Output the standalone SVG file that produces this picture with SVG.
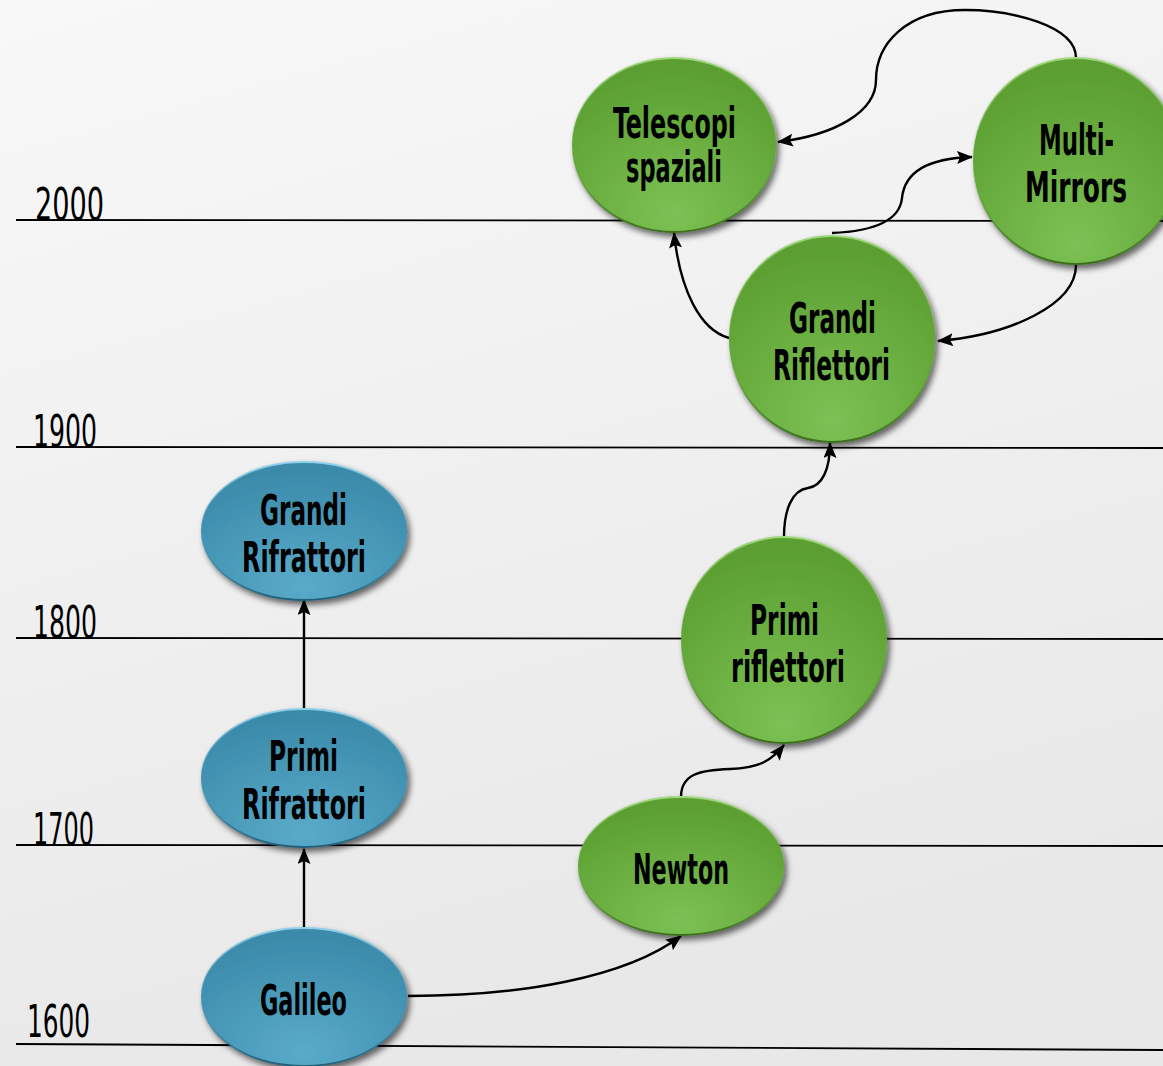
<svg xmlns="http://www.w3.org/2000/svg" width="1163" height="1066" viewBox="0 0 1163 1066">
<defs>
<linearGradient id="bg" x1="0" y1="0" x2="0.3" y2="1">
<stop offset="0" stop-color="#f8f8f8"/>
<stop offset="1" stop-color="#e8e8e8"/>
</linearGradient>
<radialGradient id="green" cx="0.5" cy="0.85" r="0.8" fx="0.5" fy="0.9">
<stop offset="0" stop-color="#7cc154"/>
<stop offset="1" stop-color="#5b9e30"/>
</radialGradient>
<radialGradient id="blue" cx="0.5" cy="0.85" r="0.8" fx="0.5" fy="0.9">
<stop offset="0" stop-color="#5aaac9"/>
<stop offset="1" stop-color="#3a8aaa"/>
</radialGradient>
<linearGradient id="rimG" x1="0" y1="0" x2="0" y2="1">
<stop offset="0" stop-color="#9fd77d"/>
<stop offset="0.5" stop-color="#5fa235" stop-opacity="0"/>
<stop offset="1" stop-color="#3c6e1c"/>
</linearGradient>
<linearGradient id="rimB" x1="0" y1="0" x2="0" y2="1">
<stop offset="0" stop-color="#8fd0ea"/>
<stop offset="0.5" stop-color="#3a8aaa" stop-opacity="0"/>
<stop offset="1" stop-color="#21607a"/>
</linearGradient>
<filter id="shadow" x="-20%" y="-20%" width="145%" height="145%">
<feGaussianBlur in="SourceAlpha" stdDeviation="3"/>
<feOffset dx="3" dy="4" result="b"/>
<feComponentTransfer><feFuncA type="linear" slope="0.6"/></feComponentTransfer>
<feMerge><feMergeNode/><feMergeNode in="SourceGraphic"/></feMerge>
</filter>
<marker id="arr" viewBox="0 0 16 13" refX="15" refY="6.5" markerWidth="16" markerHeight="13" markerUnits="userSpaceOnUse" orient="auto">
<path d="M0,0 L16,6.5 L0,13 L3,6.5 Z" fill="#000"/>
</marker>
</defs>
<style>
.yl{stroke:#000;stroke-width:1.8;fill:none}
.yr{font-family:"Liberation Sans Narrow","DejaVu Sans Condensed","Liberation Sans",sans-serif;font-size:44px;fill:#000}
.g{fill:url(#green);stroke:url(#rimG);stroke-width:2;filter:url(#shadow)}
.b{fill:url(#blue);stroke:url(#rimB);stroke-width:2;filter:url(#shadow)}
.t{font-family:"Liberation Sans Narrow","DejaVu Sans Condensed","Liberation Sans",sans-serif;font-weight:bold;font-size:42px;fill:#000}
.c{stroke:#000;stroke-width:2.4;fill:none;marker-end:url(#arr)}
</style>
<rect width="1163" height="1066" fill="url(#bg)"/>
<g id="timeline">
<line class="yl" x1="16" y1="220" x2="1163" y2="221"/>
<line class="yl" x1="16" y1="447" x2="1163" y2="448"/>
<line class="yl" x1="16" y1="638" x2="1163" y2="639"/>
<line class="yl" x1="16" y1="845" x2="1163" y2="846"/>
<line class="yl" x1="16" y1="1044" x2="1163" y2="1050"/>
<text class="yr" x="35" y="220" textLength="69" lengthAdjust="spacingAndGlyphs">2000</text>
<text class="yr" x="33" y="447" textLength="64" lengthAdjust="spacingAndGlyphs">1900</text>
<text class="yr" x="33" y="638" textLength="64" lengthAdjust="spacingAndGlyphs">1800</text>
<text class="yr" x="33" y="845" textLength="61" lengthAdjust="spacingAndGlyphs">1700</text>
<text class="yr" x="27" y="1037" textLength="63" lengthAdjust="spacingAndGlyphs">1600</text>
</g>
<g id="connectors">
<path class="c" d="M304,928 L304,849"/>
<path class="c" d="M304,709 L304,600"/>
<path class="c" d="M408,996 C520,996 625,978 681,936"/>
<path class="c" d="M681,797 C681,774 700,770 730,769 C760,768 772,760 784,745"/>
<path class="c" d="M784,537 C784,510 792,490 808,488 C822,486 830,470 830,443"/>
<path class="c" d="M729,338 C700,330 680,290 674,233"/>
<path class="c" d="M832,233 C880,231 900,218 902,198 C905,168 935,158 972,157"/>
<path class="c" d="M1076,58 C1076,25 1010,10 965,10 C905,10 876,45 876,80 C876,112 835,135 778,142"/>
<path class="c" d="M1076,265 C1076,305 1010,335 938,341"/>
</g>
<g id="telescopi">
<ellipse class="g" cx="674" cy="145" rx="102" ry="87"/>
<text class="t" x="613" y="138" textLength="123" lengthAdjust="spacingAndGlyphs">Telescopi</text>
<text class="t" x="626" y="182" textLength="96" lengthAdjust="spacingAndGlyphs">spaziali</text>
</g>
<g id="multimirrors">
<ellipse class="g" cx="1076" cy="161" rx="103" ry="103"/>
<text class="t" x="1039" y="155" textLength="75" lengthAdjust="spacingAndGlyphs">Multi-</text>
<text class="t" x="1025" y="202" textLength="102" lengthAdjust="spacingAndGlyphs">Mirrors</text>
</g>
<g id="grandiriflettori">
<ellipse class="g" cx="832" cy="339" rx="103" ry="103"/>
<text class="t" x="789" y="333" textLength="87" lengthAdjust="spacingAndGlyphs">Grandi</text>
<text class="t" x="773" y="380" textLength="117" lengthAdjust="spacingAndGlyphs">Riflettori</text>
</g>
<g id="primiriflettori">
<ellipse class="g" cx="784" cy="640" rx="103" ry="103"/>
<text class="t" x="750" y="635" textLength="69" lengthAdjust="spacingAndGlyphs">Primi</text>
<text class="t" x="731" y="682" textLength="114" lengthAdjust="spacingAndGlyphs">riflettori</text>
</g>
<g id="newton">
<ellipse class="g" cx="681" cy="866" rx="103" ry="69"/>
<text class="t" x="633" y="884" textLength="96" lengthAdjust="spacingAndGlyphs">Newton</text>
</g>
<g id="galileo">
<ellipse class="b" cx="304" cy="997" rx="103" ry="69"/>
<text class="t" x="260" y="1015" textLength="87" lengthAdjust="spacingAndGlyphs">Galileo</text>
</g>
<g id="primirifrattori">
<ellipse class="b" cx="304" cy="778" rx="103" ry="69"/>
<text class="t" x="269" y="771" textLength="69" lengthAdjust="spacingAndGlyphs">Primi</text>
<text class="t" x="242" y="819" textLength="124" lengthAdjust="spacingAndGlyphs">Rifrattori</text>
</g>
<g id="grandirifrattori">
<ellipse class="b" cx="304" cy="531" rx="103" ry="69"/>
<text class="t" x="260" y="525" textLength="87" lengthAdjust="spacingAndGlyphs">Grandi</text>
<text class="t" x="242" y="572" textLength="124" lengthAdjust="spacingAndGlyphs">Rifrattori</text>
</g>
</svg>
